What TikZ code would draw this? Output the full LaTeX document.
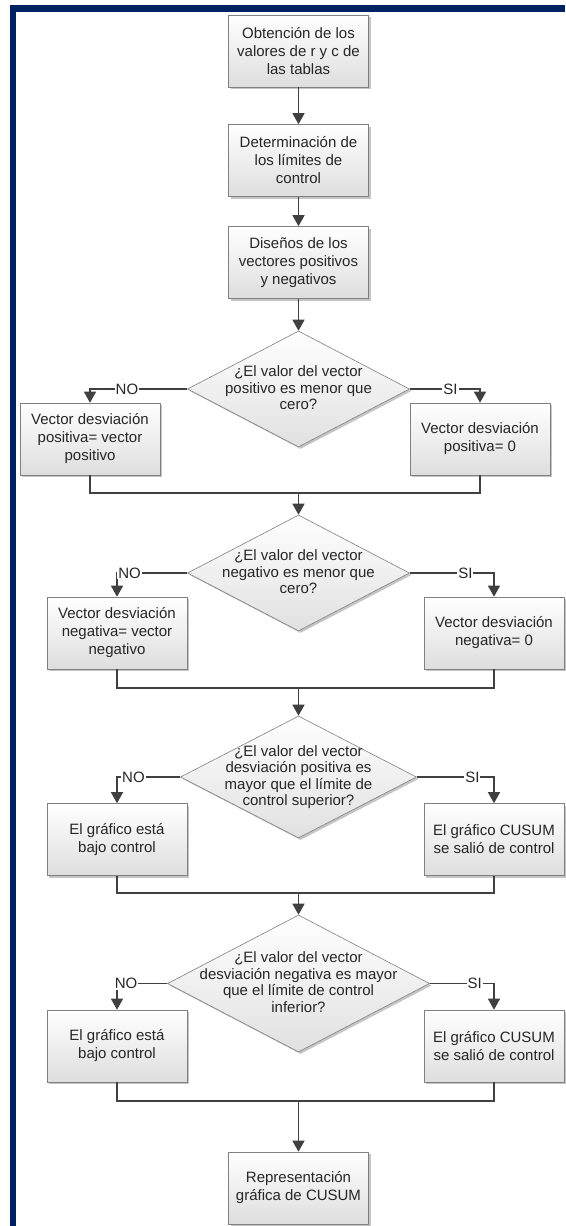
\documentclass[tikz,border=0pt]{standalone}
\usepackage{fontspec}
\setmainfont{Liberation Sans}
\usetikzlibrary{shapes.geometric,arrows.meta,shadows}
\definecolor{navy}{RGB}{0,34,96}
\definecolor{ln}{RGB}{64,64,64}
\definecolor{bd}{RGB}{128,128,128}
\newcommand{\dtext}[1]{\makebox[0pt][c]{\smash{\raisebox{-0.3em}{\begin{tabular}{@{}c@{}}#1\end{tabular}}}}}
\begin{document}
\begin{tikzpicture}[x=1pt,y=-1pt,
  shad/.style={drop shadow={shadow xshift=2pt,shadow yshift=-2pt,fill=black!45,opacity=0.5}},
  proc/.style={shad,draw=bd,line width=0.6pt,top color=white,bottom color=black!13,
    minimum width=140pt,minimum height=72pt,inner sep=2pt,align=center,
    text=black!85,font=\fontsize{15}{18}\selectfont},
  dec/.style={shad,diamond,draw=bd,line width=0.6pt,top color=white,bottom color=black!12,
    inner sep=0pt,text=black!85,font=\fontsize{15}{16.5}\selectfont},
  line/.style={draw=ln,line width=1.3pt},
  arr/.style={line,-{Triangle[length=11pt,width=12pt]}},
  lab/.style={fill=white,inner sep=1pt,text=black!85,font=\fontsize{15}{18}\selectfont}]
\useasboundingbox (0,0) rectangle (565,1226);
\fill[white] (0,0) rectangle (565,1226);
\fill[navy] (10,5) rectangle (565,12);
\fill[navy] (10,5) rectangle (16,1226);

\node[proc] (b1) at (298.5,51) {Obtención de los\\valores de r y c de\\las tablas};
\node[proc] (b2) at (298.5,160.5) {Determinación de\\los límites de\\control};
\node[proc] (b3) at (298.5,262.5) {Diseños de los\\vectores positivos\\y negativos};
\node[dec,minimum width=222pt,minimum height=116pt] (d1) at (298.5,389)
  {\dtext{¿El valor del vector\\positivo es menor que\\cero?}};
\node[proc] (l1) at (90,439) {Vector desviación\\positiva= vector\\positivo};
\node[proc] (r1) at (480,439) {Vector desviación\\positiva= 0};
\coordinate (m1) at (298.5,493);
\node[dec,minimum width=222pt,minimum height=116pt] (d2) at (298.5,573)
  {\dtext{¿El valor del vector\\negativo es menor que\\cero?}};
\node[proc] (l2) at (117,633) {Vector desviación\\negativa= vector\\negativo};
\node[proc] (r2) at (494,633) {Vector desviación\\negativa= 0};
\coordinate (m2) at (298.5,688);
\node[dec,minimum width=236pt,minimum height=122pt] (d3) at (298.5,777)
  {\dtext{¿El valor del vector\\desviación positiva es\\mayor que el límite de\\control superior?}};
\node[proc] (l3) at (117,839.5) {El gráfico está\\bajo control};
\node[proc] (r3) at (494,839.5) {El gráfico CUSUM\\se salió de control};
\coordinate (m3) at (298.5,893);
\node[dec,minimum width=262pt,minimum height=137pt] (d4) at (298.5,983.5)
  {\dtext{¿El valor del vector\\desviación negativa es mayor\\que el límite de control\\inferior?}};
\node[proc] (l4) at (117,1046) {El gráfico está\\bajo control};
\node[proc] (r4) at (494,1046) {El gráfico CUSUM\\se salió de control};
\coordinate (m4) at (298.5,1101);
\node[proc] (fin) at (298.5,1188) {Representación\\gráfica de CUSUM};

\draw[arr] (b1) -- (b2);
\draw[arr] (b2) -- (b3);
\draw[arr] (b3) -- (d1);
\draw[arr] (d1.west) -| node[lab,pos=0.31] {NO} (l1.north);
\draw[arr] (d1.east) -| node[lab,pos=0.29] {SI} (r1.north);
\draw[line] (l1.south) |- (m1) -| (r1.south);
\draw[arr] (m1) -- (d2.north);
\draw[arr] (d2.west) -| node[lab,pos=0.41] {NO} (l2.north);
\draw[arr] (d2.east) -| node[lab,pos=0.33] {SI} (r2.north);
\draw[line] (l2.south) |- (m2) -| (r2.south);
\draw[arr] (m2) -- (d3.north);
\draw[arr] (d3.west) -| node[lab,pos=0.37] {NO} (l3.north);
\draw[arr] (d3.east) -| node[lab,pos=0.36] {SI} (r3.north);
\draw[line] (l3.south) |- (m3) -| (r3.south);
\draw[arr] (m3) -- (d4.north);
\draw[arr] (d4.west) -| node[lab,pos=0.41] {NO} (l4.north);
\draw[arr] (d4.east) -| node[lab,pos=0.35] {SI} (r4.north);
\draw[line] (l4.south) |- (m4) -| (r4.south);
\draw[arr] (m4) -- (fin);
\end{tikzpicture}
\end{document}
